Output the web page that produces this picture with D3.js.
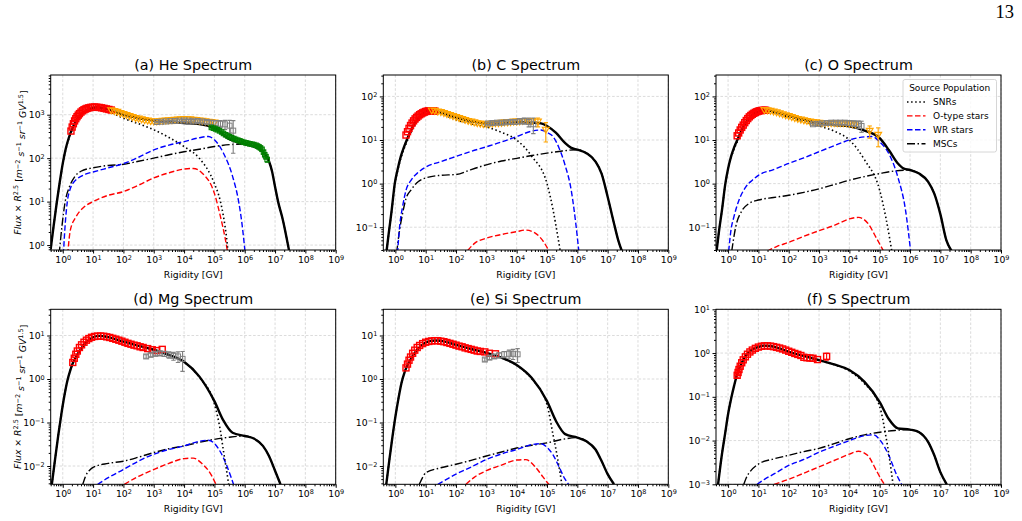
<!DOCTYPE html>
<html>
<head>
<meta charset="utf-8">
<script src="https://cdn.jsdelivr.net/npm/d3@7/dist/d3.min.js"></script>
<style>
  body { margin: 0; background: #fff; }
  svg { font-family: "DejaVu Sans", sans-serif; }
</style>
</head>
<body>
<div id="chart"></div>
<script>
/* * * * * * * * * * * * * * * * * * * * * *
*  cosmic-ray spectra by source population  *
* * * * * * * * * * * * * * * * * * * * * * */

// every point is [log10(rigidity / GV), flux x R^2.5] ; data points may add a 3rd value = error

// ---- He ----
const heTotal = [[-0.4,0.8],[-0.3,2.8],[-0.2,9.3],[-0.1,28],[0,76],[0.1,166],[0.2,295],[0.3,457],[0.45,740],[0.6,1000],[0.8,1260],[1.0,1450],[1.15,1480],[1.5,1330],[2.0,1000],[2.5,830],[3.0,730],[3.5,680],[4.0,640],[4.5,610],[5.0,490],[5.5,275],[6.0,210],[6.3,185],[6.5,160],[6.65,130],[6.8,85],[6.9,50],[7.0,22],[7.1,10],[7.25,4],[7.47,0.7]];
const heSNR = [[-0.4,0.8],[-0.3,2.8],[-0.2,9.2],[-0.1,27],[0,73],[0.1,158],[0.2,280],[0.3,430],[0.45,700],[0.6,940],[0.8,1180],[1.0,1360],[1.15,1380],[1.5,1200],[2.0,830],[2.5,620],[3.0,450],[3.5,300],[4.0,185],[4.5,100],[5.0,26],[5.2,10],[5.3,4.5],[5.4,1.5],[5.46,0.6]];
const heOstar = [[0.16,0.6],[0.25,2.2],[0.44,4.5],[0.7,7.5],[1.0,10],[1.5,14],[2.0,17],[2.5,24],[3.0,35],[3.5,46],[4.0,56],[4.3,58],[4.6,45],[5.0,15.5],[5.2,4.5],[5.35,1.5],[5.45,0.6]];
const heWR = [[0.02,0.6],[0.08,3],[0.15,10],[0.25,20],[0.4,30],[0.6,38],[0.8,44],[1.0,48],[1.5,60],[2.0,75],[2.5,105],[3.0,155],[3.5,200],[4.0,240],[4.5,295],[4.8,315],[5.0,265],[5.3,130],[5.6,38],[5.8,10],[5.9,3.5],[6.02,0.6]];
const heMSC = [[-0.12,0.6],[-0.02,3],[0.08,10],[0.22,22],[0.4,38],[0.6,50],[1.0,60],[1.5,68],[2.0,72],[2.5,85],[3.0,100],[3.5,120],[4.0,140],[4.5,160],[5.0,185],[5.5,205],[6.0,210],[6.3,185],[6.5,160],[6.65,130],[6.8,85],[6.9,50],[7.0,22],[7.1,10],[7.25,4],[7.47,0.7]];
const heRed = [[0.27,420],[0.31,520],[0.35,620],[0.39,720],[0.43,810],[0.47,900],[0.51,980],[0.55,1060],[0.6,1150],[0.65,1230],[0.7,1300],[0.75,1350],[0.8,1400],[0.86,1440],[0.92,1470],[0.98,1490],[1.05,1500],[1.12,1490],[1.2,1470],[1.28,1440],[1.36,1400],[1.44,1360],[1.52,1320],[1.6,1280]];
const heOrange = [[1.6,1250],[1.7,1200],[1.8,1150],[1.9,1080],[2.0,1020],[2.1,970],[2.2,920],[2.3,870],[2.4,830],[2.5,800],[2.6,770],[2.7,740],[2.8,720],[2.9,700],[3.0,690],[3.1,690],[3.2,700],[3.3,710],[3.4,720],[3.5,730],[3.6,740],[3.7,750],[3.8,760],[3.9,770],[4.0,780],[4.1,775],[4.2,770],[4.3,755],[4.4,740],[4.5,725],[4.6,710],[4.7,695],[4.8,680],[4.9,665],[5.0,650]];
const heGray = [[3.1,680,25],[3.25,690,25],[3.4,700,25],[3.55,710,30],[3.7,720,30],[3.85,730,35],[4.0,735,35],[4.15,730,40],[4.3,725,45],[4.45,715,50],[4.6,700,55],[4.75,680,60],[4.9,660,70],[5.05,640,90],[5.2,620,110],[5.35,600,140],[5.5,560,180],[5.62,430,300]];
const heGreen = [[4.9,510,20],[4.97,490,20],[5.04,470,20],[5.1,450,20],[5.17,425,18],[5.24,400,18],[5.3,370,16],[5.37,345,15],[5.44,325,14],[5.5,310,14],[5.57,295,13],[5.64,282,13],[5.7,270,12],[5.77,260,12],[5.84,250,11],[5.9,240,11],[5.97,232,10],[6.04,225,10],[6.1,220,10],[6.17,214,10],[6.24,209,10],[6.3,205,10],[6.37,198,10],[6.42,190,10],[6.47,182,10],[6.52,172,12],[6.57,160,12],[6.62,138,12],[6.66,120,12],[6.7,108,12],[6.74,93,12]];

// ---- C ----
const cTotal = [[-0.3,0.025],[-0.22,0.071],[-0.12,0.25],[-0.02,1.0],[0.08,2.2],[0.18,4.2],[0.28,6.8],[0.4,11],[0.55,19],[0.7,28],[0.85,38],[1.0,45],[1.15,48],[1.3,47],[1.5,43],[2.0,33],[2.5,27],[3.0,24],[3.5,24],[4.0,26],[4.5,25],[4.8,24],[5.0,21],[5.3,14.5],[5.6,8.5],[5.8,6.6],[6.0,6.0],[6.3,5.0],[6.6,3.2],[6.8,1.7],[7.0,0.5],[7.2,0.13],[7.35,0.05],[7.5,0.025]];
const cSNR = [[-0.3,0.025],[-0.22,0.07],[-0.12,0.24],[-0.02,0.95],[0.08,2.05],[0.18,3.8],[0.28,6.1],[0.4,9.8],[0.55,17],[0.7,25.5],[0.85,35],[1.0,41],[1.15,44],[1.3,43.5],[1.5,40],[2.0,29],[2.5,23.5],[3.0,20],[3.5,15],[4.0,10],[4.5,4.2],[5.0,1.0],[5.2,0.25],[5.35,0.065],[5.45,0.025]];
const cOstar = [[2.38,0.029],[2.6,0.042],[3.0,0.056],[3.5,0.068],[4.0,0.079],[4.3,0.086],[4.6,0.074],[4.9,0.045],[5.07,0.028]];
const cWR = [[0.07,0.025],[0.15,0.12],[0.24,0.3],[0.35,0.7],[0.52,1.2],[0.75,1.8],[1.0,2.4],[1.5,3.2],[2.0,4.2],[2.5,5.5],[3.0,7.0],[3.5,9],[4.0,12],[4.5,16],[4.8,17],[5.0,15],[5.2,12],[5.4,6.5],[5.6,2.6],[5.8,0.7],[5.95,0.12],[6.05,0.028]];
const cMSC = [[0.04,0.025],[0.12,0.07],[0.24,0.21],[0.35,0.45],[0.52,0.72],[0.75,1.1],[1.0,1.35],[1.5,1.55],[2.0,1.62],[2.5,2.1],[3.0,2.7],[3.5,3.3],[4.0,3.8],[4.5,4.4],[5.0,5.0],[5.5,5.6],[6.0,6.0],[6.3,5.0],[6.6,3.2],[6.8,1.7],[7.0,0.5],[7.2,0.13],[7.35,0.05],[7.5,0.025]];
const cRed = [[0.35,13],[0.4,15.5],[0.45,18.5],[0.5,21.5],[0.55,24.5],[0.6,27.5],[0.65,30.5],[0.7,33],[0.75,35.5],[0.8,38],[0.85,40],[0.9,42],[0.95,43.5],[1.0,45],[1.05,46],[1.1,46.5],[1.15,47],[1.2,47],[1.25,46.5],[1.3,46]];
const cOrange = [[1.2,47],[1.3,46],[1.4,44.5],[1.5,43],[1.6,41],[1.7,39],[1.8,37],[1.9,35],[2.0,33],[2.1,31.5],[2.2,30],[2.3,28.5],[2.4,27],[2.5,26],[2.6,25],[2.7,24],[2.8,23.5],[2.9,23],[3.0,23],[3.1,23],[3.2,23.5],[3.3,24],[3.4,24],[3.5,24.5],[3.6,25],[3.7,25],[3.8,25.5],[3.9,26],[4.0,26],[4.1,26.5],[4.2,27],[4.35,27,3],[4.5,27,4],[4.7,26,6],[4.96,17,8]];
const cGray = [[3.05,24,1.5],[3.2,24.5,1.5],[3.35,25,1.8],[3.5,25,2],[3.65,25.5,2],[3.8,26,2.5],[3.95,26,3],[4.1,27,3.5],[4.25,27.5,4.5],[4.4,26,6],[4.55,23,9]];

// ---- O ----
const oTotal = [[-0.38,0.028],[-0.3,0.08],[-0.2,0.25],[-0.09,1.0],[0,2.2],[0.1,4.2],[0.2,6.8],[0.33,11],[0.5,20],[0.7,32],[0.85,40],[1.0,45],[1.13,48],[1.3,48],[1.5,45],[2.0,36],[2.5,29],[3.0,25],[3.5,22],[4.0,20.5],[4.5,16.5],[5.0,11],[5.3,5.9],[5.6,2.9],[5.8,2.2],[6.0,2.05],[6.3,1.7],[6.6,1.1],[6.8,0.59],[7.0,0.2],[7.2,0.05],[7.38,0.028]];
const oSNR = [[-0.38,0.028],[-0.3,0.08],[-0.2,0.25],[-0.09,0.97],[0,2.1],[0.1,3.9],[0.2,6.2],[0.33,10],[0.5,18.5],[0.7,30],[0.85,38],[1.0,43],[1.13,46],[1.3,46],[1.5,42],[2.0,33],[2.5,26],[3.0,21],[3.5,16],[4.0,10],[4.5,3.5],[5.0,0.7],[5.2,0.17],[5.32,0.06],[5.4,0.028]];
const oOstar = [[1.29,0.028],[1.6,0.036],[2.0,0.045],[2.5,0.062],[3.0,0.083],[3.5,0.11],[4.0,0.155],[4.3,0.168],[4.6,0.125],[4.9,0.055],[5.13,0.028]];
const oWR = [[0.02,0.028],[0.1,0.09],[0.19,0.17],[0.35,0.4],[0.58,0.83],[0.8,1.2],[1.0,1.55],[1.5,2.1],[2.0,2.9],[2.5,3.9],[3.0,5.4],[3.5,7.4],[4.0,10],[4.5,11.8],[4.75,12],[5.0,9],[5.3,4.9],[5.6,1.4],[5.85,0.25],[6.02,0.028]];
const oMSC = [[0.12,0.028],[0.25,0.1],[0.46,0.24],[0.69,0.35],[1.0,0.42],[1.5,0.48],[2.0,0.54],[2.5,0.63],[3.0,0.76],[3.5,0.95],[4.0,1.2],[4.5,1.45],[5.0,1.7],[5.5,1.95],[6.0,2.05],[6.3,1.7],[6.6,1.1],[6.8,0.59],[7.0,0.2],[7.2,0.05],[7.38,0.028]];
const oRed = [[0.3,12.5],[0.35,14.5],[0.4,17],[0.45,19.5],[0.5,22],[0.55,25],[0.6,28],[0.65,31],[0.7,34],[0.75,36.5],[0.8,39],[0.85,41],[0.9,43],[0.95,44.5],[1.0,46],[1.05,47],[1.1,47.5],[1.15,48],[1.2,48],[1.24,48]];
const oOrange = [[1.2,48],[1.3,47.5],[1.4,46],[1.5,44.5],[1.6,42.5],[1.7,40.5],[1.8,38.5],[1.9,36.5],[2.0,35],[2.1,33],[2.2,31.5],[2.3,30],[2.4,29],[2.5,28],[2.6,27],[2.7,26],[2.8,25.5],[2.9,25],[3.0,24.5],[3.1,24],[3.2,24],[3.3,24],[3.4,24],[3.5,24],[3.6,24],[3.7,24],[3.8,24],[3.9,24],[4.0,23.5],[4.1,23],[4.2,22.5],[4.67,16,5],[4.95,13,6]];
const oGray = [[2.8,23,1.2],[2.95,23.5,1.2],[3.1,24,1.5],[3.25,24.5,1.5],[3.4,25,1.8],[3.55,25,2],[3.7,25,2.2],[3.85,25,2.5],[4.0,24.5,3],[4.15,24,3.5],[4.3,23,4.5],[4.4,21,6]];

// ---- Mg ----
const mgTotal = [[-0.36,0.0038],[-0.25,0.015],[-0.15,0.05],[-0.05,0.15],[0.05,0.4],[0.15,0.9],[0.25,1.6],[0.33,2.3],[0.45,3.3],[0.6,5.0],[0.8,7.2],[1.0,9.1],[1.2,9.8],[1.5,9.2],[2.0,7.2],[2.5,5.8],[3.0,4.7],[3.5,3.6],[4.0,2.5],[4.5,1.15],[5.0,0.31],[5.3,0.11],[5.6,0.058],[6.0,0.049],[6.3,0.043],[6.6,0.029],[6.8,0.017],[7.0,0.0078],[7.18,0.0038]];
const mgSNR = [[-0.36,0.0038],[-0.25,0.015],[-0.15,0.05],[-0.05,0.15],[0.05,0.4],[0.15,0.9],[0.25,1.6],[0.33,2.3],[0.45,3.3],[0.6,5.0],[0.8,7.2],[1.0,9.1],[1.2,9.8],[1.5,9.2],[2.0,7.2],[2.5,5.8],[3.0,4.65],[3.5,3.55],[4.0,2.45],[4.5,1.1],[5.0,0.27],[5.2,0.063],[5.3,0.022],[5.4,0.008],[5.47,0.0038]];
const mgOstar = [[2.03,0.0038],[2.5,0.0058],[3.0,0.0083],[3.5,0.0115],[4.0,0.0148],[4.3,0.0152],[4.6,0.0112],[4.9,0.0062],[5.05,0.0038]];
const mgWR = [[1.15,0.0038],[1.5,0.0054],[2.0,0.0083],[2.5,0.013],[3.0,0.0186],[3.5,0.024],[4.0,0.029],[4.5,0.037],[4.8,0.039],[5.0,0.033],[5.2,0.021],[5.4,0.0105],[5.55,0.0055],[5.63,0.0038]];
const mgMSC = [[0.66,0.0038],[0.75,0.0058],[0.9,0.0082],[1.0,0.0093],[1.5,0.0115],[2.0,0.0129],[2.5,0.016],[3.0,0.0204],[3.5,0.025],[4.0,0.029],[4.5,0.035],[5.0,0.041],[5.5,0.046],[6.0,0.049],[6.3,0.043],[6.6,0.029],[6.8,0.017],[7.0,0.0078],[7.18,0.0038]];
const mgRed = [[0.33,2.4],[0.38,3.0],[0.43,3.7],[0.48,4.4],[0.55,5.3],[0.62,6.1],[0.7,7.0],[0.78,7.8],[0.86,8.5],[0.95,9.1],[1.05,9.5],[1.15,9.7],[1.25,9.7],[1.35,9.6],[1.45,9.3],[1.55,9.0],[1.65,8.6],[1.75,8.2],[1.85,7.8],[1.95,7.4],[2.05,7.0],[2.15,6.6],[2.25,6.3],[2.35,6.0],[2.45,5.8],[2.55,5.5],[2.65,5.3],[2.8,5.0],[2.95,4.7],[3.1,4.5],[3.28,4.8]];
const mgGray = [[2.75,3.3,0.3],[2.9,3.6,0.35],[3.05,3.8,0.4],[3.2,3.9,0.45],[3.35,3.8,0.5],[3.5,3.6,0.6],[3.65,3.4,0.7],[3.8,3.3,0.9],[3.95,2.9,1.4]];

// ---- Si ----
const siTotal = [[-0.3,0.0038],[-0.2,0.0135],[-0.1,0.045],[0,0.135],[0.1,0.35],[0.2,0.8],[0.3,1.4],[0.38,1.95],[0.5,2.8],[0.7,4.5],[0.85,5.8],[1.0,6.9],[1.2,7.6],[1.4,7.7],[1.6,7.3],[2.0,6.1],[2.5,4.9],[3.0,4.0],[3.5,3.1],[4.0,2.1],[4.5,1.05],[5.0,0.31],[5.3,0.107],[5.6,0.054],[6.0,0.045],[6.3,0.037],[6.6,0.024],[6.8,0.013],[7.0,0.0065],[7.21,0.0038]];
const siSNR = [[-0.3,0.0038],[-0.2,0.0135],[-0.1,0.045],[0,0.135],[0.1,0.35],[0.2,0.8],[0.3,1.4],[0.38,1.95],[0.5,2.8],[0.7,4.5],[0.85,5.8],[1.0,6.9],[1.2,7.6],[1.4,7.7],[1.6,7.3],[2.0,6.1],[2.5,4.9],[3.0,3.97],[3.5,3.06],[4.0,2.05],[4.5,1.0],[5.0,0.26],[5.2,0.052],[5.35,0.015],[5.49,0.0038]];
const siOstar = [[2.33,0.0038],[2.6,0.0055],[3.0,0.0078],[3.5,0.0105],[4.0,0.0137],[4.3,0.014],[4.6,0.0098],[4.8,0.0065],[4.95,0.0047],[5.1,0.0035]];
const siWR = [[1.4,0.0038],[1.7,0.005],[2.0,0.0065],[2.5,0.0095],[3.0,0.0141],[3.5,0.019],[4.0,0.024],[4.5,0.031],[4.8,0.0325],[5.0,0.027],[5.2,0.018],[5.4,0.0095],[5.58,0.0052],[5.71,0.0038]];
const siMSC = [[0.79,0.0038],[0.9,0.0055],[1.0,0.007],[1.5,0.0091],[2.0,0.011],[2.5,0.0135],[3.0,0.017],[3.5,0.021],[4.0,0.026],[4.5,0.03],[5.0,0.034],[5.5,0.041],[6.0,0.045],[6.3,0.037],[6.6,0.024],[6.8,0.013],[7.0,0.0065],[7.21,0.0038]];
const siRed = [[0.35,1.8],[0.4,2.2],[0.45,2.7],[0.5,3.2],[0.57,3.9],[0.64,4.6],[0.72,5.3],[0.8,5.9],[0.9,6.5],[1.0,7.0],[1.1,7.3],[1.2,7.5],[1.3,7.6],[1.4,7.6],[1.5,7.4],[1.6,7.2],[1.7,6.9],[1.8,6.6],[1.9,6.3],[2.0,6.0],[2.1,5.7],[2.2,5.5],[2.3,5.2],[2.4,5.0],[2.5,4.8],[2.6,4.6],[2.7,4.4],[2.8,4.3],[2.95,4.2],[3.1,3.9],[3.3,3.8]];
const siGray = [[2.95,2.8,0.25],[3.1,3.1,0.3],[3.26,3.3,0.35],[3.42,3.5,0.45],[3.59,3.7,0.6],[3.75,3.8,0.8],[3.88,3.8,1.0],[4.03,3.7,1.3]];

// ---- S ----
const sTotal = [[-0.33,0.001],[-0.2,0.005],[-0.1,0.014],[0,0.04],[0.1,0.09],[0.2,0.18],[0.3,0.33],[0.4,0.5],[0.55,0.8],[0.7,1.07],[0.85,1.26],[1.0,1.38],[1.18,1.48],[1.4,1.45],[1.7,1.28],[2.0,1.07],[2.5,0.86],[3.0,0.69],[3.5,0.55],[4.0,0.41],[4.5,0.22],[5.0,0.076],[5.3,0.031],[5.6,0.019],[6.0,0.0178],[6.3,0.0155],[6.6,0.0092],[6.8,0.0046],[7.0,0.0019],[7.21,0.001]];
const sSNR = [[-0.33,0.001],[-0.2,0.005],[-0.1,0.014],[0,0.04],[0.1,0.09],[0.2,0.18],[0.3,0.33],[0.4,0.5],[0.55,0.8],[0.7,1.07],[0.85,1.26],[1.0,1.38],[1.18,1.48],[1.4,1.45],[1.7,1.28],[2.0,1.07],[2.5,0.86],[3.0,0.68],[3.5,0.54],[4.0,0.39],[4.5,0.2],[5.0,0.06],[5.2,0.013],[5.32,0.004],[5.44,0.001]];
const sOstar = [[1.52,0.001],[1.7,0.0011],[2.0,0.0013],[2.5,0.0018],[3.0,0.0025],[3.5,0.0035],[4.0,0.0049],[4.3,0.0057],[4.6,0.0046],[4.9,0.002],[5.05,0.0013],[5.2,0.0009]];
const sWR = [[0.96,0.001],[1.2,0.0013],[1.5,0.0017],[2.0,0.0027],[2.5,0.0037],[3.0,0.0054],[3.5,0.0074],[4.0,0.01],[4.5,0.0129],[4.8,0.0135],[5.0,0.0105],[5.3,0.0046],[5.55,0.0017],[5.72,0.001]];
const sMSC = [[0.52,0.001],[0.62,0.0015],[0.74,0.002],[1.0,0.0029],[1.5,0.0038],[2.0,0.0046],[2.5,0.0056],[3.0,0.0066],[3.5,0.0085],[4.0,0.011],[4.5,0.0135],[5.0,0.0155],[5.5,0.017],[6.0,0.0178],[6.3,0.0155],[6.6,0.0092],[6.8,0.0046],[7.0,0.0019],[7.21,0.001]];
const sRed = [[0.3,0.31,0.03],[0.33,0.36,0.04],[0.36,0.42,0.04],[0.4,0.5],[0.45,0.6],[0.5,0.7],[0.57,0.82],[0.64,0.94],[0.72,1.06],[0.8,1.17],[0.9,1.28],[1.0,1.37],[1.1,1.43],[1.2,1.46],[1.3,1.46],[1.4,1.44],[1.5,1.4],[1.6,1.35],[1.7,1.3],[1.8,1.24],[1.9,1.17],[2.0,1.1],[2.1,1.04],[2.2,0.98],[2.3,0.93],[2.4,0.88],[2.5,0.8],[2.6,0.78],[2.7,0.77],[2.8,0.76],[2.95,0.71],[3.25,0.84,0.15]];

const xTickExps = [0, 1, 2, 3, 4, 5, 6, 7, 8, 9];
const legendLabels = ["SNRs", "O-type stars", "WR stars", "MSCs"];

const panels = [
    {title: "(a) He Spectrum", col: 0, row: 0, ydom: [0.77, 8200], total: heTotal, snr: heSNR, ostar: heOstar, wr: heWR, msc: heMSC, red: heRed, orange: heOrange, gray: heGray, green: heGreen},
    {title: "(b) C Spectrum", col: 1, row: 0, ydom: [0.03, 310], total: cTotal, snr: cSNR, ostar: cOstar, wr: cWR, msc: cMSC, red: cRed, orange: cOrange, gray: cGray},
    {title: "(c) O Spectrum", col: 2, row: 0, ydom: [0.03, 310], total: oTotal, snr: oSNR, ostar: oOstar, wr: oWR, msc: oMSC, red: oRed, orange: oOrange, gray: oGray, legend: true},
    {title: "(d) Mg Spectrum", col: 0, row: 1, ydom: [0.0038, 40], total: mgTotal, snr: mgSNR, ostar: mgOstar, wr: mgWR, msc: mgMSC, red: mgRed, gray: mgGray},
    {title: "(e) Si Spectrum", col: 1, row: 1, ydom: [0.0038, 40], total: siTotal, snr: siSNR, ostar: siOstar, wr: siWR, msc: siMSC, red: siRed, gray: siGray},
    {title: "(f) S Spectrum", col: 2, row: 1, ydom: [0.001, 10], total: sTotal, snr: sSNR, ostar: sOstar, wr: sWR, msc: sMSC, red: sRed}
];

// layout
const COLS = [50.7, 383.3, 716];
const ROWS = [75, 309.3];
const W = 285, H = 175;
const FS = 9.3;

const lineStyles = {
    msc: {color: "#000", width: 1.4, dash: "8,2.5,1.5,2.5"},
    ostar: {color: "#ff0000", width: 1.4, dash: "5.5,2.5"},
    wr: {color: "#0000ff", width: 1.4, dash: "5.5,2.5"},
    snr: {color: "#000", width: 1.6, dash: "1.5,2.6"},
    total: {color: "#000", width: 2.4, dash: null}
};

const svg = d3.select("#chart").append("svg")
    .attr("width", 1022)
    .attr("height", 521);

// page number
svg.append("text")
    .attr("x", 1014).attr("y", 18)
    .attr("text-anchor", "end")
    .style("font-family", "'Liberation Serif', 'DejaVu Serif', serif")
    .style("font-size", "18.5px")
    .text("13");

const sup = s => String(s).replace("-", "\u2212");

function powLabel(textSel, e) {
    textSel.text(null);
    textSel.append("tspan").text("10");
    textSel.append("tspan").attr("dy", "-0.45em").style("font-size", (FS * 0.7) + "px").text(sup(e));
}

function richText(sel, parts) {
    // parts: [text, italic, superscript]
    let shifted = false;
    parts.forEach(([t, it, sp]) => {
        const ts = sel.append("tspan").text(t);
        if (it) ts.style("font-style", "italic");
        if (sp && !shifted) { ts.attr("dy", "-0.45em").style("font-size", (FS * 0.7) + "px"); shifted = true; }
        else if (!sp && shifted) { ts.attr("dy", "0.45em"); shifted = false; }
        else if (sp) ts.style("font-size", (FS * 0.7) + "px");
    });
}

panels.forEach((p, i) => {
    const g = svg.append("g")
        .attr("transform", `translate(${COLS[p.col]},${ROWS[p.row]})`);

    const x = d3.scaleLog().domain([0.4, 1e9]).range([0, W]);
    const y = d3.scaleLog().domain(p.ydom).range([H, 0]);

    const lo = Math.log10(p.ydom[0]), hi = Math.log10(p.ydom[1]);
    const yExps = d3.range(Math.ceil(lo - 1e-9), Math.floor(hi + 1e-9) + 1);
    const minorOf = (a, b) => {
        let out = [];
        for (let e = Math.floor(a); e <= Math.ceil(b); e++) {
            for (let k = 2; k <= 9; k++) {
                const v = k * Math.pow(10, e);
                if (Math.log10(v) >= a && Math.log10(v) <= b) out.push(v);
            }
        }
        return out;
    };

    // grid
    g.append("g").selectAll("line").data(xTickExps).enter().append("line")
        .attr("x1", d => x(Math.pow(10, d))).attr("x2", d => x(Math.pow(10, d)))
        .attr("y1", 0).attr("y2", H)
        .attr("stroke", "#cccccc").attr("stroke-width", 0.7).attr("stroke-dasharray", "2.6,1.8");
    g.append("g").selectAll("line").data(yExps).enter().append("line")
        .attr("y1", d => y(Math.pow(10, d))).attr("y2", d => y(Math.pow(10, d)))
        .attr("x1", 0).attr("x2", W)
        .attr("stroke", "#cccccc").attr("stroke-width", 0.7).attr("stroke-dasharray", "2.6,1.8");

    // clip
    g.append("clipPath").attr("id", "clip" + i)
        .append("rect").attr("width", W).attr("height", H);
    const plot = g.append("g").attr("clip-path", `url(#clip${i})`);

    const line = d3.line()
        .x(d => x(Math.pow(10, d[0])))
        .y(d => y(d[1]))
        .curve(d3.curveMonotoneX);

    ["msc", "ostar", "wr", "snr", "total"].forEach(k => {
        const st = lineStyles[k];
        plot.append("path")
            .datum(p[k])
            .attr("d", line)
            .attr("fill", "none")
            .attr("stroke", st.color)
            .attr("stroke-width", st.width)
            .attr("stroke-dasharray", st.dash);
    });

    // data points
    const drawErr = (data, color) => {
        plot.append("g")
            .attr("stroke", color).attr("stroke-width", 1.1)
            .selectAll("g").data(data.filter(d => d.length > 2)).enter().append("g")
            .each(function (d) {
                const gx = x(Math.pow(10, d[0]));
                const y1 = y(Math.max(d[1] - d[2], p.ydom[0] * 0.5));
                const y2 = y(d[1] + d[2]);
                const e = d3.select(this);
                e.append("line").attr("x1", gx).attr("x2", gx).attr("y1", y1).attr("y2", y2);
                e.append("line").attr("x1", gx - 2.2).attr("x2", gx + 2.2).attr("y1", y1).attr("y2", y1);
                e.append("line").attr("x1", gx - 2.2).attr("x2", gx + 2.2).attr("y1", y2).attr("y2", y2);
            });
    };
    const drawSquares = (data, color, size, sw) => {
        drawErr(data, color);
        plot.append("g").selectAll("rect").data(data).enter().append("rect")
            .attr("x", d => x(Math.pow(10, d[0])) - size / 2)
            .attr("y", d => y(d[1]) - size / 2)
            .attr("width", size).attr("height", size)
            .attr("fill", "none").attr("stroke", color).attr("stroke-width", sw);
    };
    const drawTriangles = (data, color) => {
        drawErr(data, color);
        plot.append("g").selectAll("path").data(data).enter().append("path")
            .attr("d", "M-3.4,-2.7L3.4,-2.7L0,3.2Z")
            .attr("transform", d => `translate(${x(Math.pow(10, d[0]))},${y(d[1])})`)
            .attr("fill", "none").attr("stroke", color).attr("stroke-width", 1.2);
    };

    if (p.red) drawSquares(p.red, "#ff0000", 6, 1.4);
    if (p.orange) drawTriangles(p.orange, "#ffa500");
    if (p.gray) drawSquares(p.gray, "#808080", 5, 1);
    if (p.green) drawSquares(p.green, "#008000", 4.5, 1.1);

    // frame
    g.append("rect").attr("width", W).attr("height", H)
        .attr("fill", "none").attr("stroke", "#000").attr("stroke-width", 1);

    // axes
    const xAxis = g.append("g").attr("transform", `translate(0,${H})`)
        .call(d3.axisBottom(x).tickValues(xTickExps.map(e => Math.pow(10, e))).tickSizeInner(3.5).tickSizeOuter(0).tickPadding(3));
    xAxis.select(".domain").remove();
    xAxis.selectAll(".tick text").attr("font-size", FS).attr("fill", "#000")
        .each(function (d) { powLabel(d3.select(this), Math.round(Math.log10(d))); });
    xAxis.attr("font-family", null);
    g.append("g").attr("transform", `translate(0,${H})`)
        .call(d3.axisBottom(x).tickValues(minorOf(-0.4, 9)).tickSizeInner(2).tickSizeOuter(0).tickFormat(""))
        .select(".domain").remove();

    const yAxis = g.append("g")
        .call(d3.axisLeft(y).tickValues(yExps.map(e => Math.pow(10, e))).tickSizeInner(3.5).tickSizeOuter(0).tickPadding(2.5));
    yAxis.select(".domain").remove();
    yAxis.selectAll(".tick text").attr("font-size", FS).attr("fill", "#000")
        .each(function (d) { powLabel(d3.select(this), Math.round(Math.log10(d))); });
    yAxis.attr("font-family", null);
    g.append("g")
        .call(d3.axisLeft(y).tickValues(minorOf(lo, hi)).tickSizeInner(2).tickSizeOuter(0).tickFormat(""))
        .select(".domain").remove();

    // titles and labels
    g.append("text")
        .attr("x", W / 2).attr("y", -5)
        .attr("text-anchor", "middle")
        .style("font-size", "14.3px")
        .text(p.title);

    g.append("text")
        .attr("x", W / 2).attr("y", H + 28)
        .attr("text-anchor", "middle")
        .style("font-size", FS + "px")
        .text("Rigidity [GV]");

    if (p.col === 0) {
        const t = g.append("text")
            .attr("transform", `translate(-29.5,${H / 2}) rotate(-90)`)
            .attr("text-anchor", "middle")
            .style("font-size", FS + "px");
        richText(t, [["Flux", true], [" \u00d7  ", false], ["R", true], ["2.5", false, true], [" [", false],
            ["m", true], ["\u22122", false, true], [" ", false], ["s", true], ["\u22121", false, true], [" ", false],
            ["sr", true], ["\u22121", false, true], [" ", false], ["GV", true], ["1.5", false, true], ["]", false]]);
    }

    if (p.legend) {
        const lg = g.append("g").attr("transform", `translate(${W - 98},4.5)`);
        lg.append("rect").attr("width", 93.5).attr("height", 72.5).attr("rx", 2)
            .attr("fill", "#fff").attr("fill-opacity", 0.8)
            .attr("stroke", "#cccccc").attr("stroke-width", 0.8);
        lg.append("text").attr("x", 46.7).attr("y", 11.5).attr("text-anchor", "middle")
            .style("font-size", "9px").text("Source Population");
        ["snr", "ostar", "wr", "msc"].forEach((k, j) => {
            const st = lineStyles[k];
            const yy = 22.5 + j * 13.9;
            lg.append("line").attr("x1", 4).attr("x2", 22.5).attr("y1", yy).attr("y2", yy)
                .attr("stroke", st.color).attr("stroke-width", st.width).attr("stroke-dasharray", st.dash);
            lg.append("text").attr("x", 30).attr("y", yy + 3.2)
                .style("font-size", "9px").text(legendLabels[j]);
        });
    }
});
</script>
</body>
</html>
